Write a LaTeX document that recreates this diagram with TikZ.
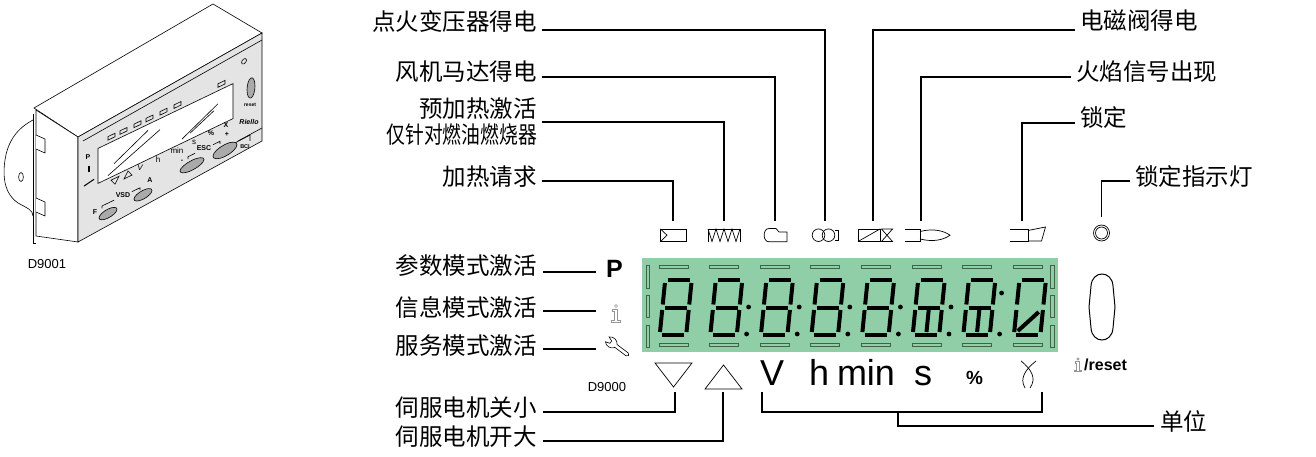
\documentclass[tikz,border=0pt]{standalone}
\usepackage{fontspec}
\setmainfont{Liberation Sans}
\newfontfamily\cjk{Noto Sans CJK SC}
\newfontfamily\cjknarrow[FakeStretch=0.8]{Noto Sans CJK SC}
\definecolor{lcdgreen}{RGB}{143,206,166}
\definecolor{lcdline}{RGB}{62,100,72}
\definecolor{panelgrey}{RGB}{228,228,228}
\definecolor{btngrey}{RGB}{170,170,170}
\definecolor{infogrey}{RGB}{150,150,150}
\begin{document}
\begin{tikzpicture}[x=1pt,y=-1pt,
  conn/.style={line width=1.3pt},
  lbl/.style={font=\cjk\fontsize{23.5}{26}\selectfont, inner sep=0pt},
  ico/.style={line width=0.7pt},
  seg/.style={line width=4pt},
  lcdmark/.style={draw=lcdline, line width=0.8pt},
  dev/.style={line width=0.6pt},
  devtxt/.style={font=\bfseries\fontsize{7}{8}\selectfont, inner sep=0pt},
  unit/.style={font=\fontsize{36}{40}\selectfont, inner sep=0pt, anchor=base},
  infoi/.pic={
    \draw[infogrey, line width=0.6pt] (0,-8) circle[radius=1.5pt];
    \draw[infogrey, line width=0.6pt] (-4,-4.5) -- (1.5,-4.5) -- (1.5,6.5) -- (4.5,6.5) -- (4.5,8.5)
      -- (-5,8.5) -- (-5,6.5) -- (-1.8,6.5) -- (-1.8,-2.5) -- (-4,-2.5) -- cycle;
  }]
\useasboundingbox (0,0) rectangle (1316,457);

% ---------------- small perspective view of the unit ----------------
\begin{scope}[dev]
  \draw[fill=white] (34,108) -- (213,4) -- (262,33) -- (78,137) -- cycle;
  \draw[fill=white] (36,110) -- (78,137) -- (78,242) -- (36,236) -- cycle;
  \draw[fill=panelgrey] (78,137) -- (262,33) -- (262,141) -- (78,242) -- cycle;
  \draw (83,141) -- (262,40);
  \draw (238,141) -- (262,128);
  \draw (220,151) -- (250,135) -- (250,141);
  % mounting flange
  \draw[fill=white] (33,120) .. controls (18,128) and (8,140) .. (5,160)
        .. controls (2,180) and (6,195) .. (18,203) .. controls (27,208) and (33,210) .. (33,216);
  \draw (33,114) -- (33,243) -- (36,243);
  \draw (21,177) ellipse [x radius=2.4pt, y radius=4.5pt];
  \draw[fill=white] (36,135) -- (45,139) -- (45,153) -- (36,149);
  \draw[fill=white] (36,198) -- (45,202) -- (45,216) -- (36,212);
\end{scope}
\begin{scope}[shift={(78,137)}, yslant=0.48, dev]
  \draw[fill=white] (20,21) -- (155,21) -- (155,56) -- (20,56) -- cycle;
  \draw (36,44) -- (70,27);  \draw (30,53) -- (82,32);
  \draw (104,52) -- (140,34); \draw (112,50) -- (136,39);
  \foreach \u in {30,42,56,68,82,96,140}{
    \draw (\u,14) -- (\u+7,14) -- (\u+7,17.5) -- (\u,17.5) -- cycle;}
  \node[devtxt] at (10,25) {P};
  \draw[line width=1.4pt] (11,34) -- (11,40);
  \draw[line width=1pt] (6,52) -- (16,50);
  \draw (33,59) -- (41,59) -- (37,65) -- cycle;
  \draw (46,64) -- (54,64) -- (50,58) -- cycle;
  \node[devtxt, font=\itshape\fontsize{8}{9}\selectfont] at (62,61) {V};
  \node[devtxt, font=\fontsize{8}{9}\selectfont] at (80,61) {h};
  \node[devtxt, font=\fontsize{8}{9}\selectfont] at (99,61) {min};
  \node[devtxt, font=\fontsize{8}{9}\selectfont] at (116,61) {s};
  \node[devtxt] at (133,60) {\%};
  \node[devtxt] at (148,59) {X};
  \draw[fill=btngrey] (30,91) ellipse [x radius=9pt, y radius=4.5pt];
  \draw[fill=btngrey] (65,89) ellipse [x radius=9pt, y radius=4.5pt];
  \draw[fill=btngrey] (114,83) ellipse [x radius=12pt, y radius=5pt];
  \draw[fill=btngrey] (147,84) ellipse [x radius=12pt, y radius=6pt];
  \node[devtxt] at (17,83) {F};
  \draw (24,83) -- (24,80.5) -- (36,80.5);
  \node[devtxt] at (45,80) {VSD};
  \draw (54,80.5) -- (62,80.5) -- (62,83);
  \node[devtxt] at (72,78) {A};
  \node[devtxt] at (104,74) {-};
  \draw (110,75) -- (110,72.5) -- (117,72.5);
  \node[devtxt] at (126,72) {ESC};
  \draw (135,72.5) -- (142,72.5) -- (142,75);
  \node[devtxt] at (149,69) {+};
  \draw (166,4) circle[radius=2.5pt];
  \draw[fill=btngrey] (173,34) ellipse [x radius=4pt, y radius=10pt];
  \node[devtxt, font=\bfseries\fontsize{5}{6}\selectfont] at (172,50) {reset};
  \node[devtxt, font=\bfseries\itshape\fontsize{7}{8}\selectfont] at (171,67) {Riello};
  \node[devtxt, font=\bfseries\fontsize{5.5}{6}\selectfont] at (167,90) {BCI};
\end{scope}
\node[font=\fontsize{13}{15}\selectfont, inner sep=0pt] (d9001) at (47,264) {D9001};

% ---------------- display window ----------------
\fill[lcdgreen] (642,258) rectangle (1058,352);
\foreach \a/\b in {265/288,295/317,325/347}{
  \draw[lcdmark] (646,\a) rectangle (649.5,\b);
  \draw[lcdmark] (1050.5,\a) rectangle (1054,\b);
}
\foreach \i in {0,...,7}{
  \pgfmathsetmacro\xo{658+50.6*\i}
  \draw[lcdmark] (\xo+1,265.5) rectangle (\xo+30,268.5);
  \draw[lcdmark] (\xo+1,343) rectangle (\xo+30,346);
  \begin{scope}[shift={(\xo,337)}, y=1pt, xslant=0.1]
    \draw[seg] (4,57) -- (26,57);
    \draw[seg] (1.5,54) -- (1.5,32.5);
    \draw[seg] (28,54) -- (28,32.5);
    \draw[seg] (1.5,27) -- (1.5,5);
    \draw[seg] (28,27) -- (28,5);
    \draw[seg] (4,2) -- (26,2);
    \ifnum\i=7
      \draw[seg] (5,6) -- (24,25);
    \else
      \draw[seg] (4,29.5) -- (26,29.5);
    \fi
    \ifnum\i=5 \draw[seg] (15,27) -- (15,5); \fi
    \ifnum\i=6 \draw[seg] (15,27) -- (15,5); \fi
  \end{scope}
}
\foreach \i in {1,...,6}{
  \pgfmathsetmacro\xo{658+50.6*\i}
  \pgfmathsetmacro\yu{\i==6 ? 293 : 307}
  \fill (\xo+40,\yu) circle[radius=2.4pt];
  \fill (\xo+38,334) circle[radius=2.4pt];
}

% ---------------- status symbols above the display ----------------
\draw[ico] (660.5,229) rectangle (686,241.5);
\draw[ico] (660.5,229) -- (667,235.2) -- (660.5,241.5);
\coordinate (tReq) at (673,221);

\draw[ico] (708,241.5) -- (708,229) -- (740,229) -- (740,241.5);
\draw[ico] (708,229) -- (712,241.5) -- (716,229) -- (720,241.5) -- (724,229)
  -- (728,241.5) -- (732,229) -- (736,241.5) -- (740,229);
\coordinate (tPre) at (724,221);

\draw[ico] (787,232) -- (779,232) -- (776,228.5) -- (769,228.5)
  .. controls (762.5,228.5) and (762.5,241.8) .. (769,241.8) -- (787,241.8) -- cycle;
\coordinate (tFan) at (775,221);

\draw[ico] (818.5,235.2) circle[radius=6.3pt];
\draw[ico] (828.5,235.2) circle[radius=6.3pt];
\draw[ico] (834.5,230.5) -- (838,230.5) -- (838,240) -- (834.5,240);
\coordinate (tIgn) at (825,221);

\draw[ico] (858,229) rectangle (880,241.5);
\draw[ico] (858,241.5) -- (880,229);
\draw[ico] (881.5,229) -- (892.5,229) -- (881.5,241.5) -- (892.5,241.5) -- cycle;
\coordinate (tVal) at (873,221);

\draw[ico] (905,229) -- (920,229) -- (920,241.5) -- (905,241.5);
\draw[ico] (920,231.5) .. controls (934,228) and (944,231) .. (950,235.2)
  .. controls (944,239.5) and (934,242.5) .. (920,239);
\coordinate (tFlm) at (921,221);

\draw[ico] (1010,229) -- (1028,229) -- (1028,241) -- (1010,241);
\draw[ico] (1028,230.5) -- (1045.5,227) -- (1041.5,241) -- (1028,241);
\coordinate (tLck) at (1022,221);

\draw[ico] (1101.5,233) circle[radius=8pt];
\draw[ico] (1101.5,233) circle[radius=6pt];
\coordinate (tLamp) at (1101.5,217);

% ---------------- labels of the status symbols ----------------
\node[lbl, anchor=east] (lIgn) at (537,21) {点火变压器得电};
\node[lbl, anchor=east] (lFan) at (537,72) {风机马达得电};
\node[lbl, anchor=east, align=right] (lPre) at (537,122)
  {预加热激活\\{\cjknarrow 仅针对燃油燃烧器}};
\node[lbl, anchor=east] (lReq) at (537,177) {加热请求};
\draw[conn] ([shift={(5,9)}]lIgn.east) -| (tIgn);
\draw[conn] ([shift={(5,5)}]lFan.east) -| (tFan);
\draw[conn] ([shift={(5,0)}]lPre.east) -| (tPre);
\draw[conn] ([shift={(5,4)}]lReq.east) -| (tReq);

\node[lbl, anchor=west] (lVal) at (1080,21) {电磁阀得电};
\node[lbl, anchor=west] (lFlm) at (1076,72) {火焰信号出现};
\node[lbl, anchor=west] (lLck) at (1080,118) {锁定};
\node[lbl, anchor=west] (lLamp) at (1135,177) {锁定指示灯};
\draw[conn] ([shift={(-5,9)}]lVal.west) -| (tVal);
\draw[conn] ([shift={(-5,5)}]lFlm.west) -| (tFlm);
\draw[conn] ([shift={(-5,5)}]lLck.west) -| (tLck);
\draw[conn] ([shift={(-5,4)}]lLamp.west) -| (tLamp);

% ---------------- mode indicators ----------------
\node[font=\bfseries\fontsize{25}{28}\selectfont, inner sep=0pt] (P) at (614.5,269) {P};
\pic at (616,314) {infoi};
\begin{scope}[shift={(616,346)}, rotate=-37, line width=0.6pt]
  \draw (0,-1.8) -- (14,-1.8) arc[start angle=90, end angle=-90, radius=1.8pt] -- (0,1.8)
    .. controls (-2,5.5) and (-8,6.5) .. (-11,3) -- (-6.5,1.5) -- (-6.5,-1.5) -- (-11,-3)
    .. controls (-8,-6.5) and (-2,-5.5) .. (0,-1.8);
\end{scope}
\coordinate (ePar) at (596,272);
\coordinate (eInf) at (596,311);
\coordinate (eSvc) at (596,349);
\node[lbl, anchor=east] (lPar) at (537,266) {参数模式激活};
\node[lbl, anchor=east] (lInf) at (537,307) {信息模式激活};
\node[lbl, anchor=east] (lSvc) at (537,346) {服务模式激活};
\draw[conn] ([shift={(6,6)}]lPar.east) -- (ePar);
\draw[conn] ([shift={(6,4)}]lInf.east) -- (eInf);
\draw[conn] ([shift={(6,3)}]lSvc.east) -- (eSvc);
\node[font=\fontsize{13}{15}\selectfont, inner sep=0pt] (d9000) at (607,387) {D9000};

% ---------------- reset button ----------------
\draw[line width=1pt] (1089,307) -- (1091,286) .. controls (1092,270) and (1112,270) .. (1113,286)
  -- (1115,307) -- (1113,328) .. controls (1112,344) and (1092,344) .. (1091,328) -- cycle;
\pic[scale=0.75] at (1078,365) {infoi};
\node[font=\bfseries\fontsize{16}{18}\selectfont, anchor=west, inner sep=0pt] (rst) at (1084,365) {/reset};

% ---------------- symbols and units below the display ----------------
\draw[ico] (655,363) -- (692,363) -- (673.5,387) -- cycle;
\draw[ico] (705,389) -- (742,389) -- (723.5,365) -- cycle;
\node[unit] (uV) at (772,385) {V};
\node[unit] (uh) at (819,385) {h};
\node[unit] (umin) at (866,385) {min};
\node[unit] (us) at (923,385) {s};
\node[font=\bfseries\fontsize{19}{21}\selectfont, inner sep=0pt, anchor=base] (upc) at (974.5,384) {\%};
\draw[ico] (1021,361) .. controls (1031,369) and (1037,378) .. (1030,388);
\draw[ico] (1036,361) .. controls (1026,369) and (1019,378) .. (1025,388);

\coordinate (tDn) at (675,392);
\coordinate (tUp) at (723,392);
\coordinate (uL) at (762,392);
\coordinate (uR) at (1042,392);
\coordinate (uM) at (898,412);
\node[lbl, anchor=east] (lDn) at (537,408) {伺服电机关小};
\node[lbl, anchor=east] (lUp) at (537,437) {伺服电机开大};
\node[lbl, anchor=west] (lUnit) at (1160,421) {单位};
\draw[conn] ([shift={(6,4)}]lDn.east) -| (tDn);
\draw[conn] ([shift={(6,4)}]lUp.east) -| (tUp);
\draw[conn] (uL) |- (uM) -| (uR);
\draw[conn] (uM) |- ([shift={(-6,5)}]lUnit.west);
\end{tikzpicture}
\end{document}
